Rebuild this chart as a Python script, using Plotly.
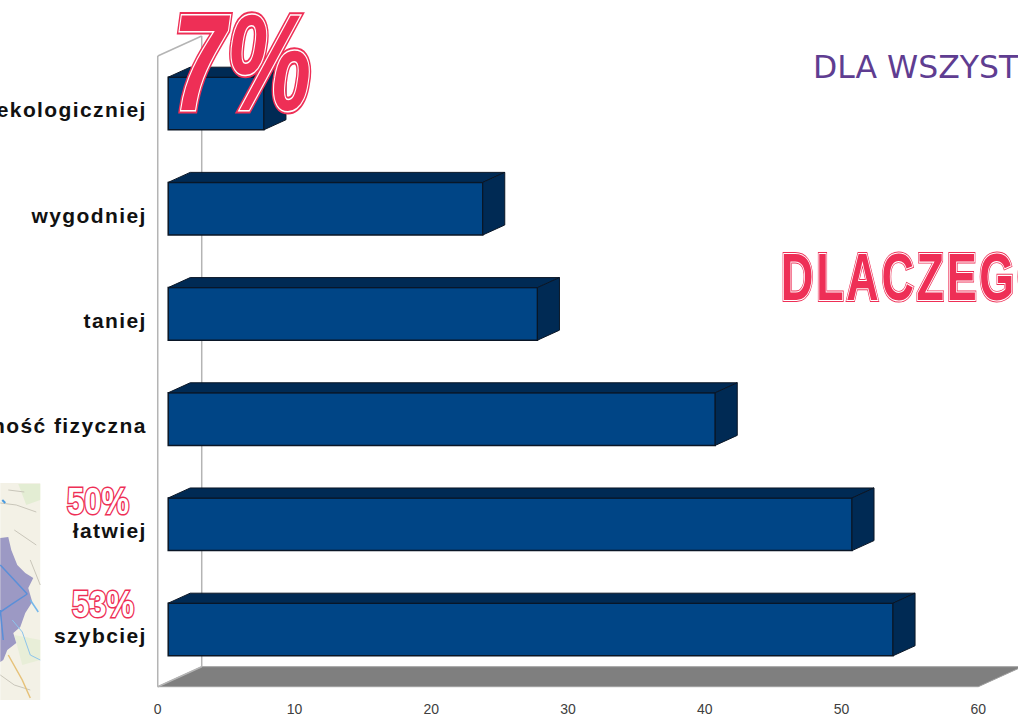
import plotly.graph_objects as go

# ---- data (bottom to top) ----
categories = ["szybciej", "łatwiej", "aktywność fizyczna", "taniej", "wygodniej", "ekologiczniej"]
values = [53, 50, 40, 27, 23, 7]
x_ticks = [0, 10, 20, 30, 40, 50, 60]

W, H = 1018, 718
PX_PER_X = 13.68
PX_PER_Y = 105.2
X0_PX = 157.5
Y0_PX = 636.0
BASE = 0.766        # bars stand a little away from the axis wall
BAR_H = 0.5
BAR_SHIFT = 0.062
DEPTH_X = 22 / PX_PER_X
DEPTH_Y = 10 / PX_PER_Y
WALL_DX = 44 / PX_PER_X
WALL_DY = 20 / PX_PER_Y
FLOOR_Y = -(686.7 - Y0_PX) / PX_PER_Y
WALL_TOP = (Y0_PX - 56) / PX_PER_Y
X_MIN, X_MAX = -0.2, (W - X0_PX) / PX_PER_X
Y_MIN, Y_MAX = -(690 - Y0_PX) / PX_PER_Y, Y0_PX / PX_PER_Y
M_L = X0_PX + X_MIN * PX_PER_X
M_B = H - 690

FRONT, SIDE, EDGE = "#004586", "#002a54", "#0a1626"
WALL, FLOOR = "#b4b4b4", "#7f7f7f"
RED, PURPLE = "#ee2f56", "#5f3d91"


def px(x, y):
    # page pixels to paper fractions (paper is the plot area)
    return (x - M_L) / (W - M_L), (H - M_B - y) / (H - M_B)


fig = go.Figure()
positions = list(range(len(categories)))

fig.add_trace(go.Bar(
    y=positions, x=values, base=BASE, orientation="h", width=BAR_H,
    offset=-BAR_H / 2 + BAR_SHIFT,
    marker=dict(color=FRONT, line=dict(color=EDGE, width=1.5)),
    showlegend=False, hoverinfo="skip",
))

for pos, val in zip(positions, values):
    top = pos + BAR_SHIFT + BAR_H / 2
    bot = pos + BAR_SHIFT - BAR_H / 2
    end = BASE + val
    fig.add_trace(go.Scatter(
        x=[BASE, end, end + DEPTH_X, BASE + DEPTH_X, BASE],
        y=[top, top, top + DEPTH_Y, top + DEPTH_Y, top],
        mode="lines", fill="toself", fillcolor=SIDE,
        line=dict(color=EDGE, width=1), showlegend=False, hoverinfo="skip"))
    fig.add_trace(go.Scatter(
        x=[end, end + DEPTH_X, end + DEPTH_X, end, end],
        y=[top, top + DEPTH_Y, bot + DEPTH_Y, bot, top],
        mode="lines", fill="toself", fillcolor=SIDE,
        line=dict(color=EDGE, width=1), showlegend=False, hoverinfo="skip"))

# walls and floor
wall_line = dict(color=WALL, width=1.5)
shapes = [
    dict(type="path", xref="x", yref="y", layer="below",
         path=f"M0,{FLOOR_Y} L60,{FLOOR_Y} L{60 + WALL_DX},{FLOOR_Y + WALL_DY} L{WALL_DX},{FLOOR_Y + WALL_DY} Z",
         fillcolor=FLOOR, line=dict(color="#a0a0a0", width=1)),
    dict(type="line", xref="x", yref="y", layer="below", x0=0, x1=0, y0=FLOOR_Y, y1=WALL_TOP, line=wall_line),
    dict(type="line", xref="x", yref="y", layer="below", x0=WALL_DX, x1=WALL_DX,
         y0=FLOOR_Y + WALL_DY, y1=WALL_TOP + WALL_DY, line=wall_line),
    dict(type="line", xref="x", yref="y", layer="below", x0=0, x1=WALL_DX, y0=WALL_TOP,
         y1=WALL_TOP + WALL_DY, line=wall_line),
    dict(type="line", xref="x", yref="y", layer="below", x0=0, x1=WALL_DX, y0=FLOOR_Y,
         y1=FLOOR_Y + WALL_DY, line=wall_line),
]


# small map thumbnail (decoration, placed in page pixels)
def poly(points, fill, line_color=None, width=0, closed=True):
    coords = [px(*p) for p in points]
    path = "M" + " L".join(f"{a:.5f},{b:.5f}" for a, b in coords) + (" Z" if closed else "")
    return dict(type="path", xref="paper", yref="paper", layer="below", path=path,
                fillcolor=fill if closed else "rgba(0,0,0,0)",
                line=dict(color=line_color or "rgba(0,0,0,0)", width=width))


ROAD = "#c9c6ba"
shapes += [
    poly([(0, 483), (40, 483), (40, 700), (0, 700)], "#f3f1e6"),
    poly([(18, 484), (40, 484), (40, 500), (26, 505)], "#e3edd3"),
    poly([(14, 635), (40, 640), (40, 660), (22, 665)], "#e8eed8"),
    poly([(8, 490), (24, 492)], "", ROAD, 1, False),
    poly([(0, 503), (16, 505), (36, 512)], "", ROAD, 1, False),
    poly([(14, 530), (36, 545)], "", ROAD, 1, False),
    poly([(30, 560), (40, 585)], "", ROAD, 1, False),
    poly([(0, 675), (14, 685), (30, 690)], "", ROAD, 1, False),
    poly([(0, 538), (8, 537), (11, 550), (17, 565), (25, 573), (33, 578), (28, 588), (32, 602),
          (25, 613), (20, 627), (13, 633), (16, 643), (7, 650), (3, 660), (0, 662)], "#9c99c4"),
    poly([(0, 565), (14, 580), (27, 594)], "", "#5a8fd8", 1.5, False),
    poly([(0, 612), (12, 604), (27, 594)], "", "#5a8fd8", 1.5, False),
    poly([(0, 610), (3, 640)], "", "#5a8fd8", 1.5, False),
    poly([(30, 600), (38, 612)], "", "#74b7ea", 1.5, False),
    poly([(12, 620), (22, 632), (30, 655), (40, 660)], "", "#8cc4ec", 1, False),
    poly([(8, 655), (22, 680), (30, 698)], "", "#e6c27a", 1.5, False),
    poly([(2, 500), (5, 503)], "", "#4a9be0", 2, False),
]


def styled(text, color=None, w=None, spacing=None):
    parts = []
    if color:
        parts.append(f"stroke:{color};stroke-width:{w}px")
    if spacing:
        parts.append(f"letter-spacing:{spacing}px")
    return f'<span style="{";".join(parts)}">{text}</span>' if parts else text


def fancy(text, x, y, size, outer, inner, core=RED, italic=False, spacing=None):
    """Outlined poster lettering: red rim, white ring, then the core."""
    ax, ay = px(x, y)
    font = dict(size=size, family="Liberation Sans", weight="bold", style="italic" if italic else "normal")
    common = dict(x=ax, y=ay, xref="paper", yref="paper", xanchor="left", yanchor="middle", showarrow=False)
    layers = [dict(text=styled(text, RED, outer, spacing), font=dict(color=RED, **font), **common)]
    if inner:
        layers.append(dict(text=styled(text, "#ffffff", inner, spacing), font=dict(color="#ffffff", **font), **common))
    layers.append(dict(text=styled(text, spacing=spacing), font=dict(color=core, **font), **common))
    return layers


annotations = []
annotations += fancy("7%", 171, 62, 137, 7, 3, italic=True)
annotations += fancy("DLACZEGO", 779, 277, 66, 4, 2.2, spacing=4)
annotations += fancy("50%", 65, 501, 37, 3, 0, core="#ffffff")
annotations += fancy("53%", 70, 604, 37, 3, 0, core="#ffffff")
ax, ay = px(811, 67)
annotations.append(dict(text="DLA WSZYSTKICH", x=ax, y=ay, xref="paper", yref="paper",
                        xanchor="left", yanchor="middle", showarrow=False,
                        font=dict(size=31.5, family="DejaVu Sans", color=PURPLE)))

fig.update_layout(
    width=W, height=H, autosize=False,
    margin=dict(l=M_L, r=0, t=0, b=M_B, pad=0),
    paper_bgcolor="white", plot_bgcolor="white",
    barmode="overlay", showlegend=False,
    shapes=shapes, annotations=annotations,
    xaxis=dict(range=[X_MIN, X_MAX], tickmode="array", tickvals=x_ticks, automargin=False,
               ticktext=[str(t) for t in x_ticks], showgrid=False, zeroline=False, showline=False,
               ticks="outside", ticklen=6, tickcolor="rgba(0,0,0,0)",
               tickfont=dict(family="Liberation Sans", size=14, color="#404040")),
    yaxis=dict(range=[Y_MIN, Y_MAX], tickmode="array", tickvals=positions, automargin=False,
               ticktext=[f'<span style="letter-spacing:1.4px">{c}</span>' for c in categories],
               showgrid=False, zeroline=False, showline=False,
               ticks="outside", ticklen=3, tickcolor="rgba(0,0,0,0)",
               tickfont=dict(family="Liberation Sans", size=21, weight="bold", color="#111111")),
)

# The poster lettering in the reference is condensed: squeeze it horizontally about its left edge.
squeeze_js = """
document.body.style.margin='0';document.body.style.overflow='hidden';
var sq={'7%':0.70,'DLACZEGO':0.68,'50%':0.84,'53%':0.84};
document.querySelectorAll('text.annotation-text').forEach(function(t){
  var s=sq[t.textContent]; if(!s) return;
  var b=t.getBBox();
  t.setAttribute('transform','translate('+b.x+',0) scale('+s+',1) translate('+(-b.x)+',0)');
});
"""
fig.write_html("out.html", config={"displayModeBar": False}, post_script=squeeze_js)
